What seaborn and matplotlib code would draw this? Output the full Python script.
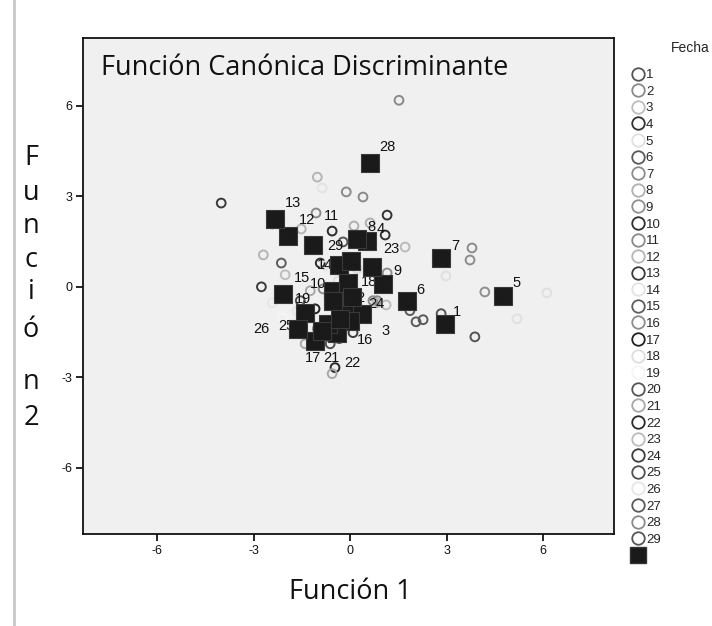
import numpy as np
import pandas as pd
import matplotlib
matplotlib.use("Agg")
import matplotlib.pyplot as plt
from matplotlib.lines import Line2D
import seaborn as sns

# ---- data ----
groups = list(range(1, 30))
group_colors = ["#555555", "#8a8a8a", "#bdbdbd", "#333333", "#e0e0e0", "#5a5a5a", "#8c8c8c",
                "#b0b0b0", "#909090", "#2e2e2e", "#8a8a8a", "#b5b5b5", "#3a3a3a", "#e3e3e3",
                "#5e5e5e", "#8e8e8e", "#222222", "#dedede", "#f5f5f5", "#555555", "#a8a8a8",
                "#2a2a2a", "#bbbbbb", "#3c3c3c", "#505050", "#e6e6e6", "#5a5a5a", "#8a8a8a",
                "#555555"]

# individual cases (Función 1, Función 2, Fecha)
case_x = [-4.01, -1.02, -0.87, -0.12, 0.40, -1.06, -2.42, -1.52, -0.56, 0.12, 0.62, 1.15, 1.09,
          1.52, 1.71, 3.79, 3.73, 2.98, 1.15, 4.19, 6.12, 5.19, 0.84, 1.12, 1.86, 2.05, 2.27,
          2.83, 3.88, -2.70, -2.14, -2.02, -2.76, -2.42, -0.93, -0.22, -0.84, -1.24, -1.09,
          -2.11, -1.02, 0.09, -0.62, -0.47, -0.56, -1.40, 0.22, 0.71, 0.84, -0.62, -0.16,
          -0.37, -1.55, -1.65, 0.00, -0.34, 0.31, -0.78]
case_y = [2.78, 3.64, 3.28, 3.15, 2.98, 2.45, 2.09, 1.92, 1.85, 2.02, 2.12, 2.38, 1.72,
          6.19, 1.32, 1.29, 0.89, 0.36, 0.46, -0.17, -0.20, -1.06, -0.46, -0.60, -0.79, -1.16,
          -1.09, -0.89, -1.66, 1.06, 0.79, 0.40, 0.00, -0.53, 0.79, 1.49, -0.07, -0.13, -0.73,
          -1.03, -1.39, -1.52, -1.89, -2.68, -2.88, -1.89, 0.60, -0.46, -0.53, -0.46, -0.33,
          0.20, -0.46, -0.80, -0.46, -1.72, -0.86, 0.70]
case_g = [13, 12, 14, 11, 28, 11, 13, 12, 10, 8, 8, 4, 4,
          28, 23, 7, 7, 5, 9, 9, 5, 5, 2, 3, 6, 6,
          6, 1, 1, 12, 15, 3, 24, 26, 10, 29, 16, 21, 17,
          19, 16, 24, 25, 22, 21, 21, 18, 2, 23, 20, 2,
          18, 25, 26, 27, 27, 16, 14]

# group centroids
cent_x = [2.95, -0.16, 0.37, 0.53, 4.75, 1.77, 2.83, 0.22, 1.02, -0.53, -1.15, -1.93, -2.33,
          -0.34, -1.40, 0.00, -1.09, -0.06, -2.08, -0.53, -0.40, -0.68, 0.68, 0.06, -1.62,
          -0.87, -0.31, 0.62, 0.03]
cent_y = [-1.23, -0.70, -0.89, 1.52, -0.30, -0.46, 0.96, 1.59, 0.10, -0.13, 1.39, 1.69, 2.25,
          0.73, -0.86, -1.13, -1.79, 0.13, -0.23, -0.46, -1.52, -1.22, 0.66, -0.33, -1.39,
          -1.46, -1.06, 4.11, 0.86]
label_x = [3.32, 0.31, 1.09, 0.96, 5.19, 2.17, 3.26, 0.65, 1.46, -1.00, -0.59, -1.34, -1.77,
           -0.78, -1.49, 0.47, -1.15, 0.59, -1.46, -0.53, -0.59, 0.06, 1.27, 0.81, -1.99,
           -2.76, -0.31, 1.15, -0.47]
label_y = [-0.83, -0.36, -1.46, 1.92, 0.13, -0.10, 1.36, 1.99, 0.53, 0.10, 2.35, 2.22, 2.78,
           0.73, 0.30, -1.75, -2.35, 0.17, -0.40, -0.30, -2.35, -2.52, 1.26, -0.56, -1.29,
           -1.39, -1.00, 4.64, 1.36]

x_ticks = [-6, -3, 0, 3, 6]
y_ticks = [-6, -3, 0, 3, 6]

# ---- figure ----
sns.set_style("white")
plt.rcParams["font.family"] = ["Liberation Sans", "DejaVu Sans"]

fig = plt.figure(figsize=(7.12, 6.26), dpi=100)
ax = fig.add_axes([0.117, 0.147, 0.745, 0.792])
ax.set_facecolor("#f0f0f0")

cases = pd.DataFrame({"f1": case_x, "f2": case_y, "g": case_g})
pal = dict(zip(groups, group_colors))
sns.scatterplot(data=cases, x="f1", y="f2", hue="g", palette=pal, marker="o", s=40,
                linewidth=1.4, legend=False, ax=ax, zorder=2)
coll = ax.collections[0]
fc = coll.get_facecolors()
coll.set_edgecolors(fc)
coll.set_facecolors("none")

cent = pd.DataFrame({"f1": cent_x, "f2": cent_y})
sns.scatterplot(data=cent, x="f1", y="f2", marker="s", s=160, color="#1a1a1a",
                edgecolor="#3a3a3a", linewidth=0.8, legend=False, ax=ax, zorder=4)

for g, lx, ly in zip(groups, label_x, label_y):
    ax.text(lx, ly, str(g), fontsize=10.5, color="#111111", ha="center", va="center",
            zorder=3)

ax.set_xlim(-8.3, 8.2)
ax.set_ylim(-8.2, 8.25)
ax.set_xticks(x_ticks)
ax.set_yticks(y_ticks)
ax.set_xticklabels([str(v) for v in x_ticks], fontsize=9)
ax.set_yticklabels([str(v) for v in y_ticks], fontsize=9)
ax.tick_params(axis="both", direction="out", length=5, width=1.2, color="black",
               labelcolor="#111111", bottom=True, left=True, pad=3)
for sp in ax.spines.values():
    sp.set_color("#111111")
    sp.set_linewidth(1.3)
ax.set_xlabel("")
ax.set_ylabel("")

ax.text(0.033, 0.968, "Función Canónica Discriminante", transform=ax.transAxes,
        fontsize=19.5, family=["Open Sans", "DejaVu Sans"], ha="left", va="top", color="#111111")

# x label
fig.text(350 / 712, 1 - 592 / 626, "Función 1", fontsize=19.5,
         family=["Open Sans", "DejaVu Sans"], ha="center", va="center", color="#111111")
# y label stacked letters
ylab_letters = ["F", "u", "n", "c", "i", "ó", "n", "2"]
ylab_pos = [158, 193, 226, 260, 292, 330, 382, 418]
for ch, py in zip(ylab_letters, ylab_pos):
    fig.text(31 / 712, 1 - py / 626, ch, fontsize=19.5, family=["Open Sans", "DejaVu Sans"],
             ha="center", va="center", color="#111111")

# legend
handles = [Line2D([], [], marker="o", linestyle="none", markersize=9, markerfacecolor="none",
                  markeredgecolor=c, markeredgewidth=1.3) for c in group_colors]
labels = [str(g) for g in groups]
handles.append(Line2D([], [], marker="s", linestyle="none", markersize=11,
                      markerfacecolor="#1a1a1a", markeredgecolor="#333333"))
labels.append(" ")
leg = fig.legend(handles, labels, loc="upper left", bbox_to_anchor=(632 / 712, 1 - 69 / 626),
                 frameon=False, fontsize=9.5, labelspacing=0.33, handlelength=0.9,
                 handletextpad=0.15, borderpad=0.0, borderaxespad=0.0)
fig.text(690 / 712, 1 - 48 / 626, "Fecha", fontsize=10, ha="center", va="center")

fig.add_artist(Line2D([14 / 712, 14 / 712], [0, 1], color="#c8c8c8", linewidth=2))

fig.savefig("out.png", dpi=100, facecolor="white")
